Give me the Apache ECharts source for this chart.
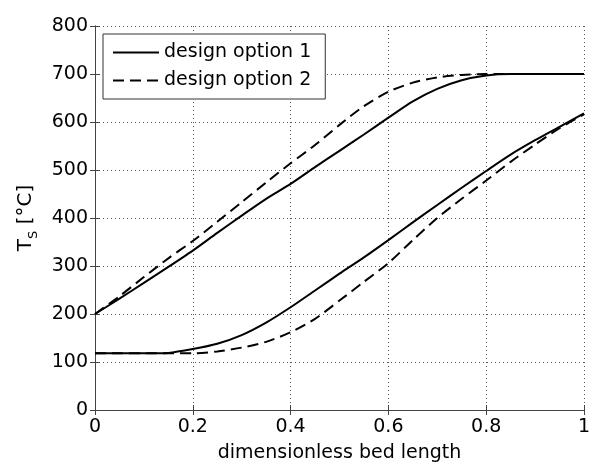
<!DOCTYPE html>
<html>
<head>
<meta charset="utf-8">
<script src="https://cdn.jsdelivr.net/npm/echarts@6/dist/echarts.min.js"></script>
<style>
  html, body { margin: 0; padding: 0; background: #fff; }
  #chart { width: 593px; height: 468px; }
</style>
</head>
<body>
<div id="chart"></div>
<script>
  // dimensionless bed length (shared x positions)
  const bedLength = [0, 0.05, 0.1, 0.15, 0.2, 0.25, 0.3, 0.35, 0.4, 0.45, 0.5,
                     0.55, 0.6, 0.65, 0.7, 0.75, 0.8, 0.85, 0.9, 0.95, 1];

  // design option 1 (solid)
  const opt1Upper = [200, 232, 265, 298, 332, 369, 405, 440, 471, 506, 540,
                     574, 609, 643, 669, 687, 697, 700, 700, 700, 700];
  const opt1Lower = [118, 118, 118, 119, 127, 138, 156, 182, 214, 249, 284,
                     318, 354, 391, 427, 463, 498, 532, 562, 590, 618];

  // design option 2 (dashed)
  const opt2Upper = [200, 237, 277, 316, 352, 392, 433, 474, 514, 552, 594,
                     633, 663, 682, 693, 698, 700, 700, 700, 700, 700];
  const opt2Lower = [118, 118, 118, 118, 118, 122, 130, 142, 162, 190, 228,
                     267, 306, 354, 400, 440, 478, 517, 553, 587, 616];

  const seriesNames = ['design option 1', 'design option 2'];

  const font = 'DejaVu Sans';
  const pairs = vals => vals.map((v, i) => [bedLength[i], v]);

  function curve(name, vals, dashed) {
    return {
      name: name,
      type: 'line',
      data: pairs(vals),
      smooth: 0.25,
      symbol: 'none',
      lineStyle: {
        color: '#000',
        width: 2,
        type: dashed ? [11, 6] : 'solid'
      },
      itemStyle: { color: '#000' }
    };
  }

  const mychart = echarts.init(document.getElementById('chart'));

  const gridDots = { show: true, lineStyle: { color: '#555', width: 1, type: [1, 3] } };
  const axisLine = { show: true, lineStyle: { color: '#444', width: 1 } };
  const tick = { show: true, inside: true, length: 5, lineStyle: { color: '#444' } };

  const option = {
    animation: false,
    backgroundColor: '#fff',
    textStyle: { fontFamily: font },
    grid: { left: 95, right: 4, top: 26, bottom: 53, containLabel: false },
    legend: {
      data: seriesNames,
      orient: 'vertical',
      left: 103,
      top: 34,
      padding: [9, 14, 9, 9],
      itemGap: 9,
      itemWidth: 46,
      itemHeight: 14,
      backgroundColor: '#fff',
      borderColor: '#333',
      borderWidth: 1,
      borderRadius: 0,
      itemStyle: { color: 'transparent', borderWidth: 0 },
      textStyle: { fontFamily: font, fontSize: 19, color: '#000', lineHeight: 19 }
    },
    xAxis: [{
      type: 'value',
      min: 0,
      max: 1,
      interval: 0.2,
      name: 'dimensionless bed length',
      nameLocation: 'middle',
      nameGap: 34,
      nameTextStyle: { fontFamily: font, fontSize: 19, color: '#000' },
      axisLine: axisLine,
      axisTick: tick,
      axisLabel: { fontFamily: font, fontSize: 19, color: '#000', margin: 8 },
      splitLine: gridDots
    }, {
      type: 'value',
      position: 'top',
      min: 0,
      max: 1,
      interval: 0.2,
      axisLine: axisLine,
      axisTick: tick,
      axisLabel: { show: false },
      splitLine: { show: false }
    }],
    yAxis: [{
      type: 'value',
      min: 0,
      max: 800,
      interval: 100,
      name: '{t|T}{s|S}{t| [°C]}',
      nameLocation: 'middle',
      nameGap: 55,
      nameTextStyle: {
        rich: {
          t: { fontFamily: font, fontSize: 20, color: '#000', lineHeight: 28 },
          s: { fontFamily: font, fontSize: 13, color: '#000', lineHeight: 28, verticalAlign: 'bottom' }
        }
      },
      axisLine: axisLine,
      axisTick: tick,
      axisLabel: { fontFamily: font, fontSize: 19, color: '#000', margin: 7 },
      splitLine: gridDots
    }, {
      type: 'value',
      position: 'right',
      min: 0,
      max: 800,
      interval: 100,
      axisLine: axisLine,
      axisTick: tick,
      axisLabel: { show: false },
      splitLine: { show: false }
    }],
    series: [
      curve(seriesNames[0], opt1Upper, false),
      curve(seriesNames[0], opt1Lower, false),
      curve(seriesNames[1], opt2Upper, true),
      curve(seriesNames[1], opt2Lower, true)
    ]
  };

  mychart.setOption(option);
</script>
</body>
</html>
